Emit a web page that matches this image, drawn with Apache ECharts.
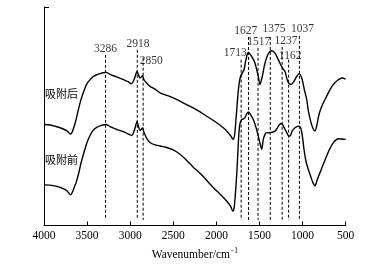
<!DOCTYPE html>
<html>
<head>
<meta charset="utf-8">
<script src="https://cdn.jsdelivr.net/npm/echarts@6/dist/echarts.min.js"></script>
<style>html,body{margin:0;padding:0;background:#fff;}#c{width:379px;height:266px;}</style>
</head>
<body>
<div id="c"></div>
<script>
// Upper spectrum (after adsorption) — wavenumber / relative transmittance
const wnAfter = [4000,3930,3861,3791,3733,3693,3675,3640,3606,3571,3536,3501,3466,3432,3389,3350,3316,3281,3234,3157,3107,3060,3025,2983,2956,2933,2921,2904,2886,2869,2857,2840,2809,2770,2712,2654,2585,2500,2422,2306,2213,2113,2016,1920,1865,1830,1807,1790,1773,1755,1738,1721,1703,1680,1657,1630,1591,1553,1514,1494,1468,1436,1398,1359,1320,1282,1235,1204,1173,1135,1108,1068,1042,1010,980,952,932,903,879,856,833,815,792,760,723,682,636,586,543,500];
const tAfter  = [46.2,46.0,45.3,44.4,43.3,41.9,42.6,46.7,52.2,57.6,61.7,64.9,66.7,68.1,69.0,69.5,69.9,70.1,69.2,68.0,67.2,66.4,65.8,64.9,66.7,69.4,70.5,69.0,67.5,68.1,68.6,66.7,65.2,63.7,62.4,60.7,59.7,58.4,56.9,54.6,52.6,50.0,47.6,44.7,42.6,40.8,39.4,41.2,48.5,57.6,64.5,68.1,69.5,71.3,75.9,79.2,77.4,74.4,68.2,64.5,68.2,74.4,78.6,80.0,78.9,75.9,72.1,70.5,66.0,64.5,65.5,68.2,69.5,67.5,62.2,57.6,52.2,47.2,44.4,43.3,46.2,49.9,53.1,56.1,59.0,62.2,64.9,66.7,67.5,67.0];
// Lower spectrum (before adsorption)
const wnBefore = [4000,3930,3853,3791,3737,3690,3670,3640,3629,3600,3571,3536,3501,3466,3432,3389,3350,3316,3281,3234,3157,3107,3060,3025,2983,2956,2933,2921,2904,2886,2869,2857,2840,2809,2770,2712,2654,2585,2500,2422,2353,2268,2190,2113,2040,1959,1912,1862,1830,1811,1795,1780,1764,1749,1738,1726,1707,1691,1668,1645,1625,1604,1572,1541,1514,1494,1474,1456,1436,1417,1390,1367,1343,1320,1297,1268,1243,1216,1184,1163,1146,1123,1088,1050,1022,1001,984,961,934,903,880,856,833,798,760,721,682,643,612,585,543,500];
const tBefore  = [18.6,18.5,17.9,17.1,16.0,14.1,15.3,18.5,19.4,23.5,28.5,33.5,38.0,41.2,43.5,44.9,45.6,46.0,46.2,45.3,44.0,43.3,42.6,41.9,41.2,43.1,46.2,47.6,45.3,43.5,44.2,44.6,42.6,39.9,38.0,36.9,36.4,35.8,34.6,32.6,30.1,26.7,23.9,20.7,17.5,14.4,12.5,10.3,8.4,6.6,8.0,14.4,23.5,34.9,42.6,46.7,48.5,48.7,49.4,51.3,51.8,50.8,48.5,44.9,40.9,37.6,34.9,39.4,41.7,42.5,42.4,42.6,42.8,43.2,44.4,46.2,46.7,44.9,42.5,41.0,40.9,43.1,44.7,45.5,44.7,40.3,34.9,29.4,25.7,22.1,19.6,18.2,20.7,24.2,28.0,31.8,35.3,37.9,39.2,39.7,39.6,39.4];
// Marked peaks and the top end of their dashed guide lines
const peaks    = [3286,2918,2850,1713,1627,1517,1375,1237,1162,1037];
const peakTop  = [78.1,80.4,76.8,75.9,86.3,81.3,86.3,81.8,75.9,86.8];
const peakBottom = 2.5;
const seriesNames = ['吸附后','吸附前'];

const labelOffsets = [[0,-5.5],[0.7,-5.5],[8,3],[-6,-6.5],[-2.8,-6],[0.7,-5.5],[3.7,-8],[3.8,-5.5],[1.5,-4],[3.1,-7]];
const serif = '"Liberation Serif","Times New Roman",serif';

const zip = (a,b) => a.map((v,i)=>[v,b[i]]);
const chart = echarts.init(document.getElementById('c'), null, {renderer:'canvas'});

const guideSeries = peaks.map((p,i)=>({
  type:'line', silent:true, symbol:'none', z:1,
  data:[[p,peakTop[i]],[p,peakBottom]],
  lineStyle:{color:'#000',width:1,type:[3,2]}
}));

chart.setOption({
  animation:false,
  backgroundColor:'#fff',
  grid:{left:44,right:33.3,top:7,bottom:39.5},
  xAxis:{
    type:'value', inverse:true, min:500, max:4000, interval:500,
    name:'Wavenumber/cm{sup|−1}', nameLocation:'middle', nameGap:22,
    nameTextStyle:{fontFamily:serif,fontSize:11.5,color:'#000',
      rich:{sup:{fontFamily:serif,fontSize:7.5,color:'#000',padding:[0,0,7,0]}}},
    axisLine:{lineStyle:{color:'#000',width:1}},
    axisTick:{inside:true,length:4,lineStyle:{color:'#000'}},
    axisLabel:{fontFamily:serif,fontSize:11.5,color:'#000',margin:4,formatter:v=>String(v)},
    splitLine:{show:false}
  },
  yAxis:{
    type:'value', min:0, max:100, interval:100,
    axisLine:{show:true,lineStyle:{color:'#000',width:1}},
    axisTick:{show:true,inside:true,length:5,lineStyle:{color:'#000'}},
    axisLabel:{show:false}, splitLine:{show:false}
  },
  series:[
    ...guideSeries,
    {type:'line',name:seriesNames[0],data:zip(wnAfter,tAfter),symbol:'none',smooth:0.3,z:3,
     lineStyle:{color:'#000',width:1.4}},
    {type:'line',name:seriesNames[1],data:zip(wnBefore,tBefore),symbol:'none',smooth:0.3,z:3,
     lineStyle:{color:'#000',width:1.4}},
    {type:'scatter',symbolSize:0,z:4,silent:true,
     data:peaks.map((p,i)=>({value:[p,peakTop[i]],
       label:{show:true,position:'inside',offset:labelOffsets[i],formatter:String(p),
              fontFamily:serif,fontSize:11.5,color:'#000'}}))}
  ],
  graphic:[
    {type:'text',left:45,top:88,style:{text:seriesNames[0],font:'11px "Noto Sans CJK SC"',fill:'#000'}},
    {type:'text',left:45,top:154,style:{text:seriesNames[1],font:'11px "Noto Sans CJK SC"',fill:'#000'}}
  ]
});
</script>
</body>
</html>
